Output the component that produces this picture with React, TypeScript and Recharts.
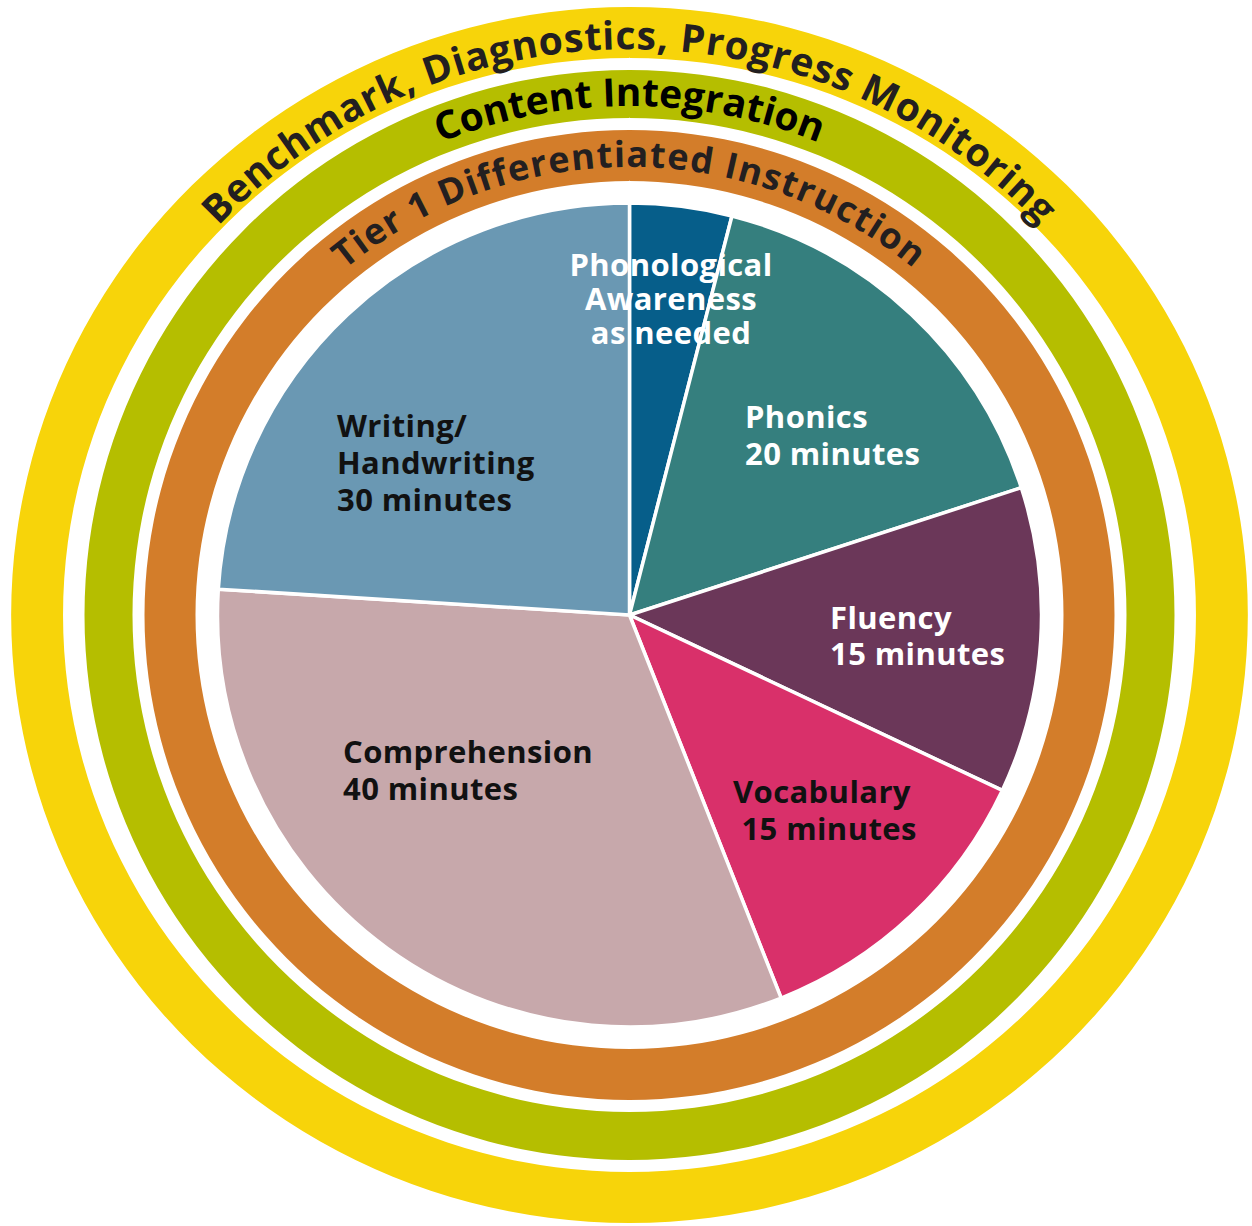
import { PieChart, Pie, Cell } from 'recharts'

// reading block, minutes per day (phonological awareness is "as needed", sized from the picture)
const categories = [
  'Phonological Awareness',
  'Phonics',
  'Fluency',
  'Vocabulary',
  'Comprehension',
  'Writing/Handwriting',
]
const minutes = [5, 20, 15, 15, 40, 30]
const labelLines = [
  ['Phonological', 'Awareness', 'as needed'],
  ['Phonics', '20 minutes'],
  ['Fluency', '15 minutes'],
  ['Vocabulary', ' 15 minutes'],
  ['Comprehension', '40 minutes'],
  ['Writing/', 'Handwriting', '30 minutes'],
]
const sliceColors = ['#065e8a', '#357f7e', '#6b3759', '#d9306a', '#c7a8ab', '#6a98b3']
const labelColors = ['#ffffff', '#ffffff', '#ffffff', '#111111', '#111111', '#111111']

// rings, inside to outside
const ringTitles = [
  'Tier 1 Differentiated Instruction',
  'Content Integration',
  'Benchmark, Diagnostics, Progress Monitoring',
]
const ringColors = ['#d37d2a', '#b5be00', '#f7d40a']

const W = 1252
const H = 1226
const CX = 629.5
const CY = 615
const PIE_R = 412
const ringRadii = [
  [434, 485],
  [497, 545],
  [557, 608],
]
const ringText = [
  { r: 448, size: 36, spacing: 1.3, color: '#231f20' },
  { r: 509, size: 39, spacing: 0, color: '#000000' },
  { r: 566, size: 39, spacing: 0.8, color: '#231f20' },
]

// where each slice label sits, relative to the pie centre
const labelSpots = [
  { dx: 41.5, dy: -339, lh: 34, anchor: 'middle' },
  { dx: 115.5, dy: -187, lh: 37, anchor: 'start' },
  { dx: 200.5, dy: 14, lh: 36, anchor: 'start' },
  { dx: 103.5, dy: 188, lh: 37, anchor: 'start' },
  { dx: -286.5, dy: 148, lh: 37, anchor: 'start' },
  { dx: -292.5, dy: -178, lh: 37, anchor: 'start' },
]

const font = '"Open Sans", "DejaVu Sans", sans-serif'

const sliceData = categories.map((name, i) => ({ name, value: minutes[i] }))

function renderLabel(props: any) {
  const i = props.index
  const spot = labelSpots[i]
  const x = CX + spot.dx
  const y = CY + spot.dy
  return (
    <text
      key={`lbl-${i}`}
      x={x}
      y={y}
      fill={labelColors[i]}
      textAnchor={spot.anchor as any}
      fontFamily={font}
      fontWeight={700}
      fontSize={31}
      letterSpacing={0.4}
      style={{ whiteSpace: 'pre' }}
    >
      {labelLines[i].map((line, j) => (
        <tspan key={j} x={x} y={y + j * spot.lh}>
          {line}
        </tspan>
      ))}
    </text>
  )
}

function arcPath(r: number) {
  return `M ${CX - r} ${CY} A ${r} ${r} 0 0 1 ${CX + r} ${CY}`
}

// curved title drawn as the ring's own label so it sits on top of the ring
function ringLabel(i: number) {
  const t = ringText[i]
  return (
    <g key={`ring-title-${i}`}>
      <defs>
        <path id={`ring-arc-${i}`} d={arcPath(t.r)} fill="none" />
      </defs>
      <text
        fontFamily={font}
        fontWeight={700}
        fontSize={t.size}
        letterSpacing={t.spacing}
        fill={t.color}
      >
        <textPath href={`#ring-arc-${i}`} startOffset="50%" textAnchor="middle">
          {ringTitles[i]}
        </textPath>
      </text>
    </g>
  )
}

// the outer ring in the original is a touch wider than it is tall
const outerRingCss = `.outer-ring .recharts-pie-sector { transform: scaleX(1.017); transform-origin: ${CX}px ${CY}px; }`

export default function App() {
  return (
    <div style={{ position: 'absolute', left: 0, top: 0, background: '#fff' }}>
      <style>{outerRingCss}</style>
      <PieChart width={W} height={H} margin={{ top: 0, right: 0, bottom: 0, left: 0 }}>
        {ringTitles.map((title, i) => (
          <Pie
            key={title}
            className={i === 2 ? 'outer-ring' : undefined}
            data={[{ name: title, value: 1 }]}
            dataKey="value"
            cx={CX}
            cy={CY}
            innerRadius={ringRadii[i][0]}
            outerRadius={ringRadii[i][1]}
            startAngle={90}
            endAngle={-270}
            fill={ringColors[i]}
            stroke="none"
            label={() => ringLabel(i)}
            labelLine={false}
            isAnimationActive={false}
          />
        ))}
        <Pie
          data={sliceData}
          dataKey="value"
          nameKey="name"
          cx={CX}
          cy={CY}
          outerRadius={PIE_R}
          startAngle={90}
          endAngle={-270}
          stroke="#ffffff"
          strokeWidth={3.5}
          label={renderLabel}
          labelLine={false}
          isAnimationActive={false}
        >
          {sliceData.map((d, i) => (
            <Cell key={d.name} fill={sliceColors[i]} />
          ))}
        </Pie>
      </PieChart>
    </div>
  )
}
